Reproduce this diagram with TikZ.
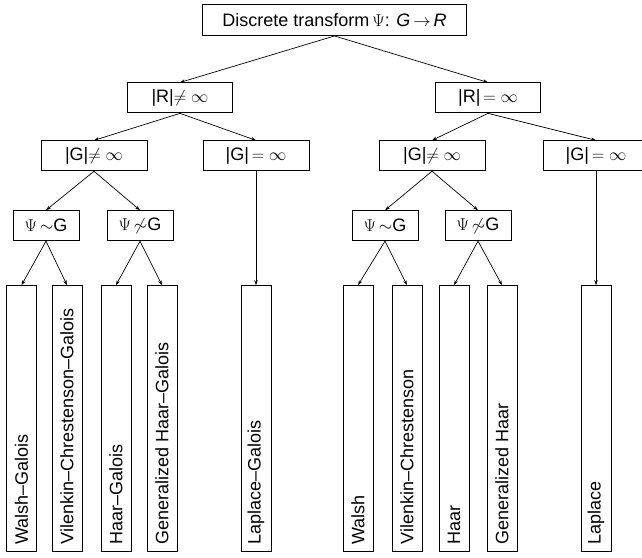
\documentclass[tikz,border=0pt]{standalone}
\usepackage{fontspec}
\setmainfont{Liberation Sans}
\usepackage{graphicx}
\usetikzlibrary{arrows.meta, positioning}
\tikzstyle{cond}=[rectangle, draw, line width=0.9pt, minimum height=30pt, inner sep=0pt]
\tikzstyle{leaf}=[rectangle, draw, line width=0.9pt, minimum width=30pt, minimum height=266pt, inner sep=0pt]
\tikzstyle{arrow}=[-{Stealth[length=5pt,width=3.5pt]}, line width=0.7pt]
\newcommand{\vtext}[1]{\rotatebox{90}{\makebox[252pt][l]{#1}}}

\begin{document}
\begin{tikzpicture}[font=\fontsize{18}{22}\selectfont]
\useasboundingbox (0,0) rectangle (642pt,-557pt);

% Root
\node[cond, minimum width=264pt, minimum height=31pt] (root) at (334.5pt,-20pt) {Discrete transform\,$\Psi$: \textit{G}\,$\rightarrow$\,\textit{R}};

% Range
\node[cond, minimum width=105pt, below=46.5pt of root, xshift=-154.5pt] (rfin) {|R|$\neq\infty$};
\node[cond, minimum width=105pt, below=46.5pt of root, xshift=153.5pt] (rinf) {|R|$\,=\infty$};

% Group
\node[cond, minimum width=106pt, below=27pt of rfin, xshift=-86pt] (gfinA) {|G|$\neq\infty$};
\node[cond, minimum width=106pt, below=27pt of rfin, xshift=76pt] (ginfA) {|G|$\,=\infty$};
\node[cond, minimum width=106pt, below=27pt of rinf, xshift=-56pt] (gfinB) {|G|$\neq\infty$};
\node[cond, minimum width=106pt, below=27pt of rinf, xshift=108pt] (ginfB) {|G|$\,=\infty$};

% Psi vs G
\node[cond, minimum width=66pt, below=39pt of gfinA, xshift=-48pt] (psiA) {$\Psi\,{\sim}$G};
\node[cond, minimum width=66pt, below=39pt of gfinA, xshift=46pt] (npsiA) {$\Psi\,{\not\sim}$G};
\node[cond, minimum width=66pt, below=39pt of gfinB, xshift=-47pt] (psiB) {$\Psi\,{\sim}$G};
\node[cond, minimum width=66pt, below=39pt of gfinB, xshift=46pt] (npsiB) {$\Psi\,{\not\sim}$G};

% Galois leaves
\node[leaf, below=44pt of psiA, xshift=-24.5pt] (walshG) {\vtext{Walsh--Galois}};
\node[leaf, below=44pt of psiA, xshift=21pt] (vcG) {\vtext{Vilenkin--Chrestenson--Galois}};
\node[leaf, below=44pt of npsiA, xshift=-24pt] (haarG) {\vtext{Haar--Galois}};
\node[leaf, below=44pt of npsiA, xshift=22pt] (ghaarG) {\vtext{Generalized Haar--Galois}};
\node[leaf, below=114pt of ginfA] (lapG) {\vtext{Laplace--Galois}};

% Classical leaves
\node[leaf, below=44pt of psiB, xshift=-27pt] (walsh) {\vtext{Walsh}};
\node[leaf, below=44pt of psiB, xshift=22pt] (vc) {\vtext{Vilenkin--Chrestenson}};
\node[leaf, below=44pt of npsiB, xshift=-24pt] (haar) {\vtext{Haar}};
\node[leaf, below=44pt of npsiB, xshift=24pt] (ghaar) {\vtext{Generalized Haar}};
\node[leaf, below=114pt of ginfB] (lap) {\vtext{Laplace}};

% Tree arrows
\draw[arrow] (root.south) -- (rfin.north);
\draw[arrow] (root.south) -- (rinf.north);
\draw[arrow] (rfin.south) -- (gfinA.north);
\draw[arrow] (rfin.south) -- (ginfA.north);
\draw[arrow] (rinf.south) -- (gfinB.north);
\draw[arrow] (rinf.south) -- (ginfB.north);
\draw[arrow] (gfinA.south) -- (psiA.north);
\draw[arrow] (gfinA.south) -- (npsiA.north);
\draw[arrow] (gfinB.south) -- (psiB.north);
\draw[arrow] (gfinB.south) -- (npsiB.north);
\draw[arrow] (psiA.south) -- (walshG.north);
\draw[arrow] (psiA.south) -- (vcG.north);
\draw[arrow] (npsiA.south) -- (haarG.north);
\draw[arrow] (npsiA.south) -- (ghaarG.north);
\draw[arrow] (ginfA.south) -- (lapG.north);
\draw[arrow] (psiB.south) -- (walsh.north);
\draw[arrow] (psiB.south) -- (vc.north);
\draw[arrow] (npsiB.south) -- (haar.north);
\draw[arrow] (npsiB.south) -- (ghaar.north);
\draw[arrow] (ginfB.south) -- (lap.north);

\end{tikzpicture}
\end{document}
